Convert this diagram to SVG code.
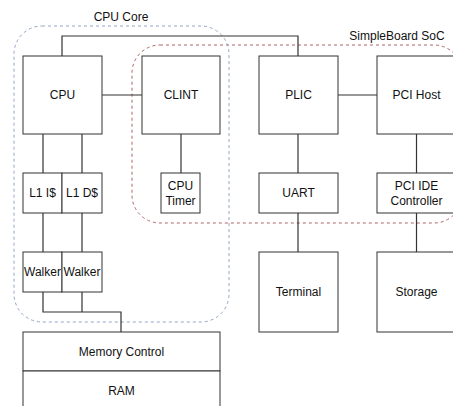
<svg xmlns="http://www.w3.org/2000/svg" width="453" height="406" viewBox="0 0 453 406">
<style>
.bg{fill:#ffffff}
.box{fill:#ffffff;stroke:#333333;stroke-width:1}
.wire{fill:none;stroke:#333333;stroke-width:1.2}
.lbl{font-family:"Liberation Sans",Arial,sans-serif;font-size:12px;fill:#111111;text-anchor:middle}
.grp-core{fill:none;stroke:#93a6c6;stroke-width:1;stroke-dasharray:3 3}
.grp-soc{fill:none;stroke:#b06565;stroke-width:1;stroke-dasharray:3 3}
</style>
<rect class="bg" x="0" y="0" width="453" height="406"/>
<g id="group-soc">
<rect class="grp-soc" x="132" y="45" width="330" height="178" rx="28" ry="28"/>
<text class="lbl" x="397" y="40">SimpleBoard SoC</text>
</g>
<g id="group-core">
<rect class="grp-core" x="14" y="26" width="215" height="296" rx="28" ry="28"/>
<text class="lbl" x="121" y="21">CPU Core</text>
</g>
<g id="connectors">
<polyline class="wire" points="62,56 62,36 298,36 298,56"/>
<line class="wire" x1="102" y1="95" x2="142" y2="95"/>
<line class="wire" x1="338" y1="95" x2="377" y2="95"/>
<line class="wire" x1="43" y1="134" x2="43" y2="173"/>
<line class="wire" x1="82" y1="134" x2="82" y2="173"/>
<line class="wire" x1="181" y1="134" x2="181" y2="173"/>
<line class="wire" x1="298" y1="134" x2="298" y2="173"/>
<line class="wire" x1="416.5" y1="134" x2="416.5" y2="173"/>
<line class="wire" x1="43" y1="213" x2="43" y2="252"/>
<line class="wire" x1="82" y1="213" x2="82" y2="252"/>
<line class="wire" x1="298" y1="213" x2="298" y2="252"/>
<line class="wire" x1="416.5" y1="213" x2="416.5" y2="252"/>
<polyline class="wire" points="43,292 43,312 121,312 121,332"/>
<line class="wire" x1="82" y1="292" x2="82" y2="312"/>
</g>
<g id="cpu"><rect class="box" x="23" y="56" width="79" height="78"/><text class="lbl" x="62.5" y="99">CPU</text></g>
<g id="clint"><rect class="box" x="142" y="56" width="78" height="78"/><text class="lbl" x="181" y="99">CLINT</text></g>
<g id="plic"><rect class="box" x="259" y="56" width="79" height="78"/><text class="lbl" x="298.5" y="99">PLIC</text></g>
<g id="pci-host"><rect class="box" x="377" y="56" width="79" height="78"/><text class="lbl" x="416.5" y="99">PCI Host</text></g>
<g id="l1i"><rect class="box" x="23" y="173" width="39" height="40"/><text class="lbl" x="42.5" y="197">L1 I$</text></g>
<g id="l1d"><rect class="box" x="62" y="173" width="40" height="40"/><text class="lbl" x="82" y="197">L1 D$</text></g>
<g id="cpu-timer"><rect class="box" x="161" y="173" width="39" height="40"/><text class="lbl" x="180.5" y="190">CPU</text><text class="lbl" x="180.5" y="205">Timer</text></g>
<g id="uart"><rect class="box" x="259" y="173" width="79" height="40"/><text class="lbl" x="298.5" y="197">UART</text></g>
<g id="pci-ide"><rect class="box" x="377" y="173" width="79" height="40"/><text class="lbl" x="416.5" y="190">PCI IDE</text><text class="lbl" x="416.5" y="205">Controller</text></g>
<g id="walker-i"><rect class="box" x="23" y="252" width="39" height="40"/><text class="lbl" x="42.5" y="276">Walker</text></g>
<g id="walker-d"><rect class="box" x="62" y="252" width="40" height="40"/><text class="lbl" x="82" y="276">Walker</text></g>
<g id="terminal"><rect class="box" x="259" y="252" width="79" height="80"/><text class="lbl" x="298.5" y="296">Terminal</text></g>
<g id="storage"><rect class="box" x="377" y="252" width="79" height="80"/><text class="lbl" x="416.5" y="296">Storage</text></g>
<g id="memory-control"><rect class="box" x="23" y="332" width="197" height="39"/><text class="lbl" x="121.5" y="356">Memory Control</text></g>
<g id="ram"><rect class="box" x="23" y="371" width="197" height="40"/><text class="lbl" x="121.5" y="395">RAM</text></g>
</svg>
